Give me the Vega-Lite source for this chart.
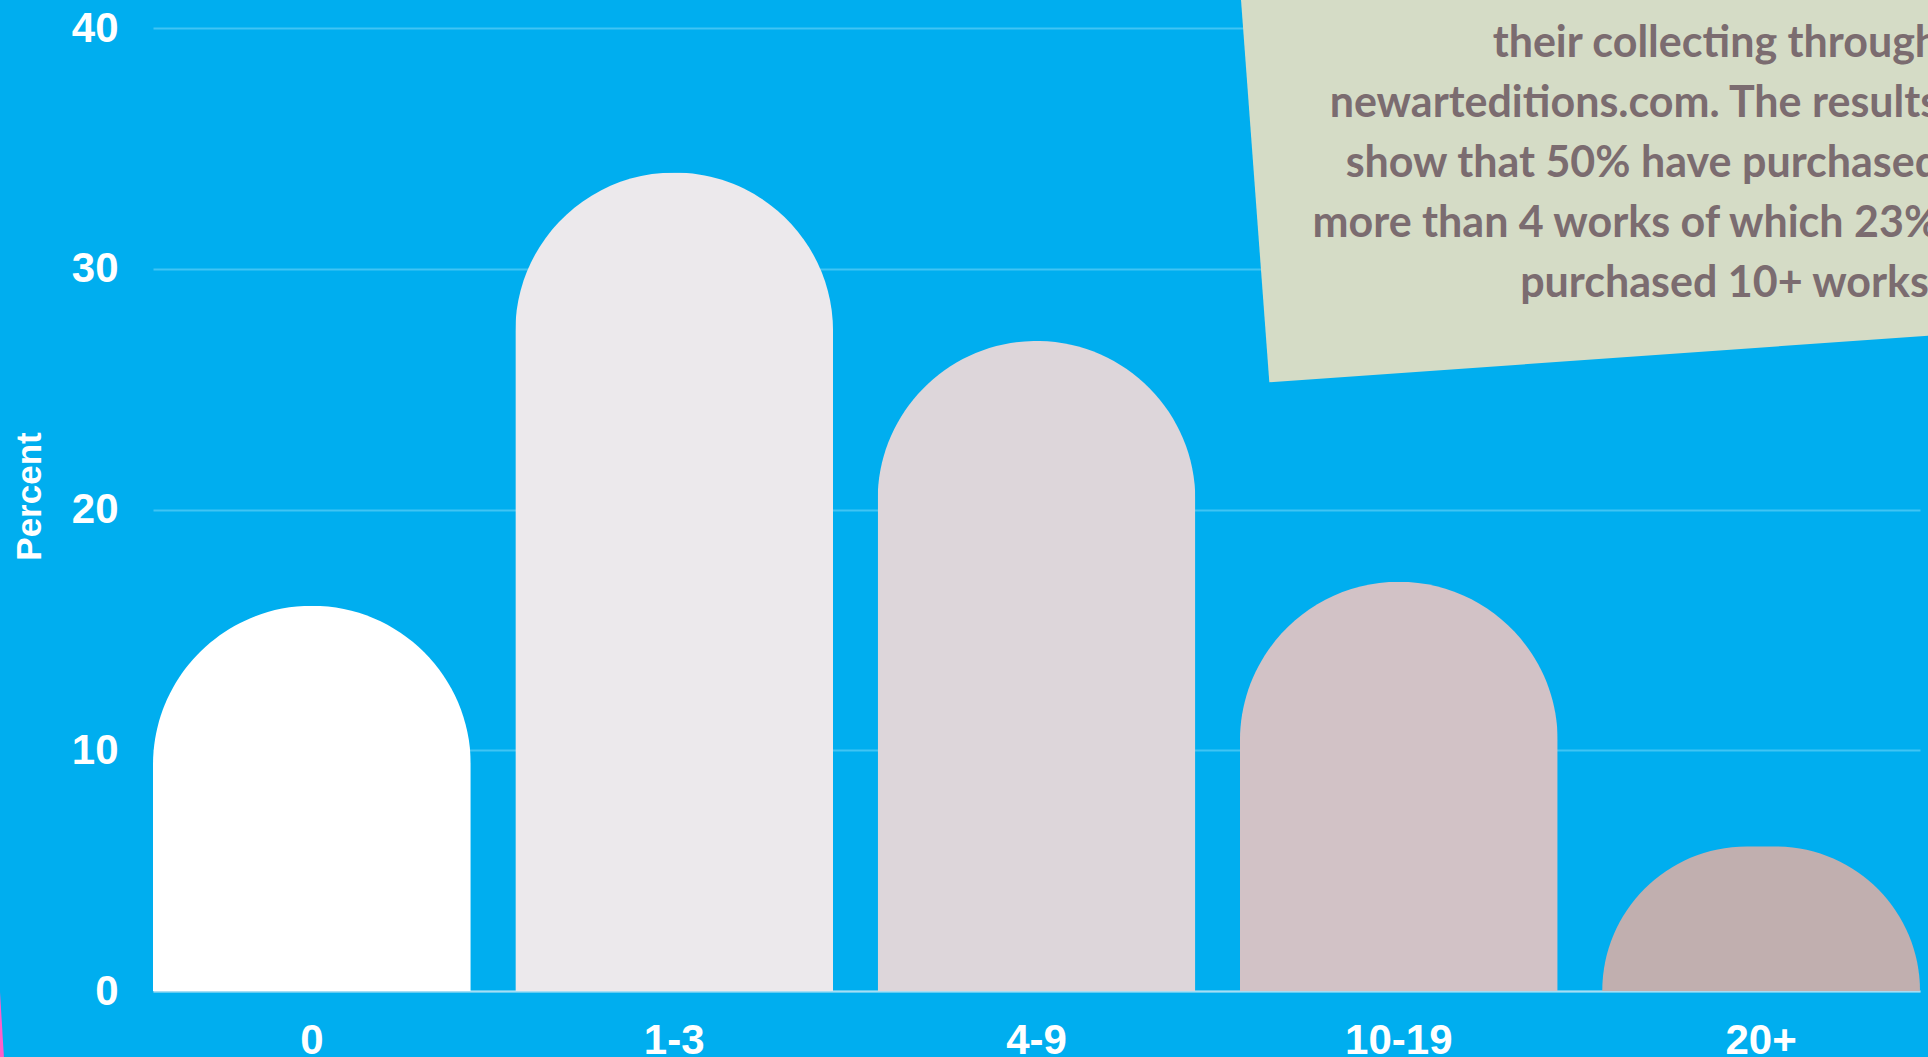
{
  "$schema": "https://vega.github.io/schema/vega-lite/v6.json",
  "autosize": {"type": "none"},
  "width": 1767,
  "height": 963,
  "padding": {"left": 153, "top": 28, "right": 8, "bottom": 66},
  "background": "#00AEEF",
  "view": {"stroke": null},
  "data": {
    "values": [
      {"works": "0", "percent": 16},
      {"works": "1-3", "percent": 34},
      {"works": "4-9", "percent": 27},
      {"works": "10-19", "percent": 17},
      {"works": "20+", "percent": 6}
    ]
  },
  "layer": [
    {
      "transform": [{"filter": "datum.works !== '20+'"}],
      "mark": {"type": "bar", "cornerRadiusTopLeft": 159, "cornerRadiusTopRight": 159},
      "encoding": {
        "x": {
          "field": "works", "type": "nominal", "sort": null,
          "scale": {"domain": ["0", "1-3", "4-9", "10-19", "20+"], "paddingInner": 0.123, "paddingOuter": 0},
          "axis": {
            "title": null, "labelAngle": 0, "labelFont": "Liberation Sans", "labelFontWeight": "bold",
            "labelFontSize": 42, "labelColor": "#FFFFFF", "labelPadding": 29, "ticks": false, "tickSize": 0,
            "domain": true, "domainColor": "#A6DEF4", "domainWidth": 2, "grid": false
          }
        },
        "y": {
          "field": "percent", "type": "quantitative",
          "scale": {"domain": [0, 40], "nice": false},
          "axis": {
            "title": "Percent", "titleFont": "Liberation Sans", "titleFontWeight": "bold", "titleFontSize": 35,
            "titleColor": "#FFFFFF", "titlePadding": 24, "titleY": 468,
            "values": [0, 10, 20, 30, 40],
            "labelFont": "Liberation Sans", "labelFontWeight": "bold", "labelFontSize": 42, "labelColor": "#FFFFFF",
            "labelPadding": 35, "ticks": false, "tickSize": 0, "domain": false,
            "grid": true, "gridColor": "#40C4F4", "gridWidth": 2, "gridOpacity": 1
          }
        },
        "color": {
          "field": "works", "type": "nominal",
          "scale": {"domain": ["0", "1-3", "4-9", "10-19", "20+"], "range": ["#FFFFFF", "#ECE9EC", "#DDD6DA", "#D2C2C6", "#C1AFAF"]},
          "legend": null
        }
      }
    },
    {
      "transform": [{"filter": "datum.works === '20+'"}],
      "mark": {"type": "bar", "cornerRadius": 159, "clip": true},
      "encoding": {
        "x": {"field": "works", "type": "nominal", "sort": null},
        "y": {"field": "percent", "type": "quantitative"},
        "y2": {"datum": -6},
        "color": {"field": "works", "type": "nominal", "legend": null}
      }
    },
    {
      "data": {"values": [{"note": "box"}]},
      "mark": {
        "type": "point", "filled": true, "opacity": 1, "color": "#D5DCC6", "strokeWidth": 0,
        "shape": "M -0.259 0.2271 L -0.323 -0.6375 L 1.2024 -0.6375 L 1.2024 0.1237 Z",
        "size": 1000000
      },
      "encoding": {
        "x": {"datum": "10-19", "type": "nominal"},
        "y": {"datum": 30, "type": "quantitative"}
      }
    },
    {
      "data": {"values": [{"note": "strip"}]},
      "mark": {
        "type": "point", "filled": true, "opacity": 1, "color": "#FF5FC8", "strokeWidth": 0,
        "shape": "M -0.6358 -0.2 L -0.612 0.198 L -0.824 0.198 L -0.824 -0.2 Z",
        "size": 1000000
      },
      "encoding": {
        "x": {"datum": "0", "type": "nominal"},
        "y": {"datum": 0, "type": "quantitative"}
      }
    },
    {
      "data": {"values": [{"note": "their collecting through\nnewarteditions.com. The results\nshow that 50% have purchased\nmore than 4 works of which 23%\npurchased 10+ works."}]},
      "mark": {
        "type": "text", "align": "right", "baseline": "alphabetic", "lineBreak": "\n", "lineHeight": 60,
        "font": "Lato", "fontWeight": "bold", "fontSize": 43, "color": "#7B6C70", "dx": 178, "dy": 5
      },
      "encoding": {
        "x": {"datum": "20+", "type": "nominal"},
        "y": {"datum": 39, "type": "quantitative"},
        "text": {"field": "note", "type": "nominal"}
      }
    }
  ]
}
